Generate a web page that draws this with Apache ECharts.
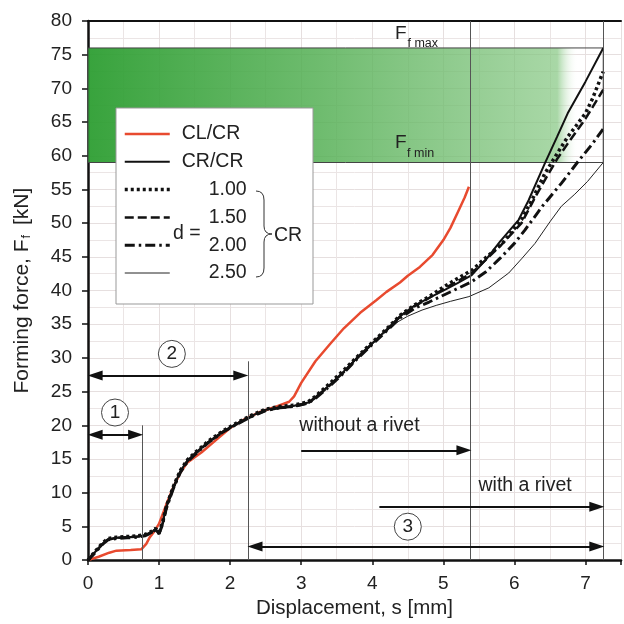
<!DOCTYPE html>
<html><head><meta charset="utf-8">
<script src="https://cdn.jsdelivr.net/npm/echarts@6/dist/echarts.min.js"></script>
<style>html,body{margin:0;padding:0;background:#fff}#c{width:624px;height:624px}</style>
</head><body><div id="c"></div>
<script>
const FONT = "'Liberation Sans Narrow','Arial Narrow','Liberation Sans',Arial,sans-serif";

// ---- data ----
const xTicks = [0, 1, 2, 3, 4, 5, 6, 7];
const yTicks = [0, 5, 10, 15, 20, 25, 30, 35, 40, 45, 50, 55, 60, 65, 70, 75, 80];
const seriesNames = ['CL/CR', 'CR/CR', '1.00', '1.50', '2.00', '2.50'];

const clcr = [[0,0],[0.15,0.5],[0.3,1.1],[0.4,1.4],[0.6,1.5],[0.75,1.6],[0.82,2.4],[0.87,3.4],[0.93,4.2],[1.0,5.4],[1.1,8.2],[1.2,10.8],[1.3,13.0],[1.4,14.5],[1.6,16.0],[1.8,17.8],[2.0,19.6],[2.2,20.9],[2.4,21.9],[2.6,22.6],[2.83,23.5],[2.9,24.3],[3.0,26.3],[3.2,29.5],[3.4,32.0],[3.6,34.4],[3.83,36.7],[4.06,38.6],[4.2,39.8],[4.39,41.2],[4.5,42.2],[4.67,43.5],[4.85,45.3],[5.0,47.5],[5.1,49.3],[5.22,52.0],[5.3,53.8],[5.36,55.4]];

const crcr = [[0,0],[0.1,1.2],[0.2,2.4],[0.28,3.1],[0.4,3.3],[0.55,3.4],[0.7,3.5],[0.8,3.7],[0.9,4.2],[0.95,4.6],[1.0,4.0],[1.05,5.5],[1.1,7.8],[1.2,10.8],[1.3,13.2],[1.4,14.8],[1.5,15.8],[1.7,17.6],[1.9,19.1],[2.1,20.3],[2.3,21.4],[2.5,22.3],[2.7,22.7],[2.9,22.9],[3.1,23.4],[3.2,24.2],[3.4,26.0],[3.6,28.0],[3.8,30.2],[4.0,32.2],[4.2,34.2],[4.4,36.3],[4.6,37.8],[4.8,38.9],[5.0,40.0],[5.2,41.1],[5.4,42.3],[5.6,44.6],[5.8,47.3],[6.06,50.5],[6.2,53.4],[6.43,58.9],[6.6,62.8],[6.75,66.3],[7.0,71.0],[7.25,76.0]];

const d100 = [[0,0],[0.1,1.3],[0.2,2.5],[0.28,3.2],[0.4,3.4],[0.55,3.5],[0.7,3.6],[0.8,3.8],[0.9,4.3],[0.95,4.7],[1.0,4.1],[1.05,5.6],[1.1,7.9],[1.2,10.9],[1.3,13.3],[1.4,14.9],[1.5,15.9],[1.7,17.7],[1.9,19.2],[2.1,20.4],[2.3,21.5],[2.5,22.4],[2.7,22.8],[2.9,23.0],[3.1,23.5],[3.2,24.3],[3.4,26.2],[3.6,28.2],[3.8,30.3],[4.0,32.3],[4.2,34.3],[4.4,36.4],[4.6,37.9],[4.8,39.1],[5.0,40.5],[5.2,41.8],[5.4,43.0],[5.6,44.9],[5.83,47.0],[6.1,50.5],[6.25,53.5],[6.43,57.4],[6.6,60.3],[6.75,62.8],[7.0,66.3],[7.1,68.5],[7.25,72.5]];

const d150 = [[0,0],[0.1,1.2],[0.2,2.3],[0.28,3.0],[0.4,3.3],[0.55,3.4],[0.7,3.5],[0.8,3.7],[0.9,4.1],[0.95,4.5],[1.0,3.9],[1.05,5.4],[1.1,7.7],[1.2,10.7],[1.3,13.1],[1.4,14.7],[1.5,15.7],[1.7,17.5],[1.9,19.0],[2.1,20.2],[2.3,21.3],[2.5,22.2],[2.7,22.6],[2.9,22.8],[3.1,23.3],[3.2,24.1],[3.4,25.9],[3.6,27.9],[3.8,30.1],[4.0,32.1],[4.2,34.1],[4.4,36.2],[4.6,37.7],[4.8,38.9],[5.0,40.2],[5.2,41.4],[5.4,42.6],[5.6,44.6],[5.8,46.6],[6.1,50.0],[6.3,54.0],[6.45,56.8],[6.6,59.5],[6.75,61.8],[7.0,65.5],[7.25,69.8]];

const d200 = [[0,0],[0.1,1.1],[0.2,2.3],[0.28,3.0],[0.4,3.2],[0.55,3.3],[0.7,3.4],[0.8,3.6],[0.9,4.1],[0.95,4.5],[1.0,3.9],[1.05,5.3],[1.1,7.6],[1.2,10.6],[1.3,13.0],[1.4,14.6],[1.5,15.6],[1.7,17.5],[1.9,19.0],[2.1,20.2],[2.3,21.3],[2.5,22.2],[2.7,22.6],[2.9,22.8],[3.1,23.3],[3.2,24.0],[3.4,25.8],[3.6,27.8],[3.8,30.0],[4.0,32.0],[4.2,34.0],[4.4,36.0],[4.6,37.4],[4.8,38.3],[5.0,39.3],[5.2,40.3],[5.4,41.3],[5.6,42.8],[5.8,44.8],[6.0,47.0],[6.15,49.0],[6.4,52.6],[6.66,55.9],[6.9,59.2],[7.1,61.8],[7.25,64.0]];

const d250 = [[0,0],[0.1,1.2],[0.2,2.4],[0.28,3.1],[0.4,3.3],[0.55,3.4],[0.7,3.5],[0.8,3.7],[0.9,4.2],[0.95,4.5],[1.0,4.0],[1.05,5.4],[1.1,7.7],[1.2,10.7],[1.3,13.1],[1.4,14.7],[1.5,15.7],[1.7,17.6],[1.9,19.1],[2.1,20.3],[2.3,21.4],[2.5,22.3],[2.7,22.7],[2.9,22.9],[3.1,23.4],[3.2,24.1],[3.4,25.9],[3.6,27.9],[3.8,30.0],[4.0,32.0],[4.15,33.5],[4.3,35.0],[4.5,36.2],[4.7,37.1],[4.9,37.8],[5.1,38.4],[5.36,39.1],[5.64,40.4],[5.92,42.6],[6.1,44.7],[6.29,47.0],[6.5,50.2],[6.66,52.5],[6.85,54.3],[7.03,56.2],[7.25,59.0]];

// force window and reference positions
const ffMin = 59, ffMax = 76;
const sStart = 0, sRivetless = 5.38, sRivet = 7.25, sStage1 = 0.77, sStage2 = 2.25;

const chart = echarts.init(document.getElementById('c'), null, {renderer: 'canvas'});

const lineGray = '#555';
const arrowSym = 'triangle';
const braceStyle = {fill: 'none', stroke: '#333', lineWidth: 1};
const hidden = {color: 'rgba(0,0,0,0)'};
const txt = (coord, text, size) => ({coord: coord, symbol: 'rect', symbolSize: 1, itemStyle: hidden,
  label: {show: true, position: 'inside', formatter: text, fontFamily: FONT, fontSize: size, color: '#222'}});
const circ = (coord, text) => ({coord: coord, symbol: 'circle', symbolSize: 27,
  itemStyle: {color: '#fff', borderColor: '#444', borderWidth: 1},
  label: {show: true, position: 'inside', formatter: text, fontFamily: FONT, fontSize: 19, color: '#222'}});

const option = {
  backgroundColor: '#fff',
  animation: false,
  textStyle: {fontFamily: FONT},
  grid: {left: 88, top: 21, width: 538, height: 540, show: false},
  xAxis: [{
    type: 'value', min: 0, max: 7.5, interval: 1,
    name: 'Displacement, s [mm]', nameLocation: 'middle', nameGap: 35,
    nameTextStyle: {fontFamily: FONT, fontSize: 20.5, color: '#222'},
    axisLine: {show: true, onZero: false, lineStyle: {color: '#111', width: 2.5}},
    axisTick: {show: true, length: 5, lineStyle: {color: '#111', width: 1.5}},
    axisLabel: {margin: 14, fontFamily: FONT, fontSize: 19, color: '#222',
      formatter: v => (Math.abs(v - Math.round(v)) < 1e-6 && v <= 7) ? String(Math.round(v)) : ''},
    splitLine: {show: true, lineStyle: {color: '#e6dfdf', width: 1}},
    minorSplitLine: {show: true, lineStyle: {color: '#ebe5e5', width: 1}},
    minorTick: {show: false, splitNumber: 2}
  }, {
    type: 'value', min: 0, max: 7.5, interval: 1, position: 'top',
    axisLine: {show: true, onZero: false, lineStyle: {color: '#111', width: 2}},
    axisTick: {show: false}, axisLabel: {show: false}, splitLine: {show: false}
  }],
  yAxis: {
    type: 'value', min: 0, max: 80, interval: 5,
    name: 'Forming force, F{s|f} [kN]', nameLocation: 'middle', nameGap: 55,
    nameTextStyle: {fontFamily: FONT, fontSize: 21, color: '#222',
      rich: {s: {fontFamily: FONT, fontSize: 13, lineHeight: 13, verticalAlign: 'bottom', color: '#222', padding: [0, 4, 0, 1]}}},
    axisLine: {show: true, onZero: false, lineStyle: {color: '#111', width: 2.5}},
    axisTick: {show: true, length: 6, lineStyle: {color: '#111', width: 1.5}},
    axisLabel: {margin: 16, fontFamily: FONT, fontSize: 19, color: '#222'},
    splitLine: {show: true, lineStyle: {color: '#e6dfdf', width: 1}},
    minorSplitLine: {show: true, lineStyle: {color: '#ebe5e5', width: 1}},
    minorTick: {show: false, splitNumber: 2}
  },
  legend: {
    orient: 'vertical', left: 123, top: 124, itemWidth: 45, itemHeight: 12, itemGap: 7.8,
    padding: 0, z: 10, selectedMode: false,
    data: seriesNames,
    itemStyle: {color: 'rgba(0,0,0,0)', borderWidth: 0, opacity: 0},
    lineStyle: {width: 'inherit', type: 'inherit', color: 'inherit'},
    formatter: n => n.indexOf('/') >= 0 ? '{a|' + n + '}' : '{b|' + n + '}',
    textStyle: {fontFamily: FONT, fontSize: 19.5, color: '#222',
      rich: {a: {fontFamily: FONT, fontSize: 19.5, color: '#222', padding: [0, 0, 0, 7], lineHeight: 22},
             b: {fontFamily: FONT, fontSize: 19.5, color: '#222', padding: [0, 0, 0, 34], lineHeight: 22}}}
  },
  graphic: [
    {type: 'rect', z: 3, shape: {x: 116, y: 108, width: 197, height: 196}, style: {fill: '#fff', stroke: '#999', lineWidth: 1}},
    {type: 'text', z: 11, x: 173, y: 224, style: {text: 'd =', font: "19.5px " + FONT, fill: '#222'}},
    {type: 'text', z: 11, x: 274, y: 226, style: {text: 'CR', font: "19.5px " + FONT, fill: '#222'}},
    {type: 'bezierCurve', z: 11, shape: {x1: 256, y1: 191, x2: 264, y2: 200, cpx1: 264, cpy1: 191}, style: braceStyle},
    {type: 'line', z: 11, shape: {x1: 264, y1: 200, x2: 264, y2: 226}, style: braceStyle},
    {type: 'bezierCurve', z: 11, shape: {x1: 264, y1: 226, x2: 272, y2: 234, cpx1: 264, cpy1: 234}, style: braceStyle},
    {type: 'bezierCurve', z: 11, shape: {x1: 272, y1: 234, x2: 264, y2: 242, cpx1: 264, cpy1: 234}, style: braceStyle},
    {type: 'line', z: 11, shape: {x1: 264, y1: 242, x2: 264, y2: 268}, style: braceStyle},
    {type: 'bezierCurve', z: 11, shape: {x1: 264, y1: 268, x2: 256, y2: 277, cpx1: 264, cpy1: 277}, style: braceStyle}
  ],
  series: [
    {
      name: 'annot', type: 'line', data: [], z: 1, symbol: 'none', silent: true,
      markArea: {
        silent: true,
        itemStyle: {
          color: {type: 'linear', x: 0, y: 0, x2: 1, y2: 0, colorStops: [
            {offset: 0, color: 'rgba(45,158,50,0.95)'},
            {offset: 0.45, color: 'rgba(85,176,85,0.85)'},
            {offset: 0.75, color: 'rgba(120,192,118,0.78)'},
            {offset: 0.91, color: 'rgba(135,200,132,0.72)'},
            {offset: 0.95, color: 'rgba(255,255,255,0)'},
            {offset: 1, color: 'rgba(255,255,255,0)'}]},
          borderColor: '#444', borderWidth: 1
        },
        data: [[{coord: [sStart, ffMin]}, {coord: [sRivet, ffMax]}]]
      },
      markLine: {
        silent: true, symbol: 'none', symbolSize: [10, 15],
        label: {show: false},
        lineStyle: {color: lineGray, width: 1, type: 'solid'},
        data: [
          [{coord: [sStage1, 0]}, {coord: [sStage1, 20]}],
          [{coord: [sStage2, 0]}, {coord: [sStage2, 29.5]}],
          [{coord: [sRivetless, 0]}, {coord: [sRivetless, 80]}],
          [{coord: [sRivet, 0]}, {coord: [sRivet, 80]}],
          [{coord: [0.1, 18.6], symbol: arrowSym, lineStyle: {color: '#111', width: 2}}, {coord: [0.67, 18.6], symbol: arrowSym}],
          [{coord: [0.1, 27.4], symbol: arrowSym, lineStyle: {color: '#111', width: 2}}, {coord: [2.15, 27.4], symbol: arrowSym}],
          [{coord: [3.0, 16.3], symbol: 'none', lineStyle: {color: '#111', width: 2}}, {coord: [5.29, 16.3], symbol: arrowSym}],
          [{coord: [4.1, 7.9], symbol: 'none', lineStyle: {color: '#111', width: 2}}, {coord: [7.16, 7.9], symbol: arrowSym}],
          [{coord: [2.35, 2.0], symbol: arrowSym, lineStyle: {color: '#111', width: 2}}, {coord: [7.16, 2.0], symbol: arrowSym}]
        ]
      },
      markPoint: {
        silent: true,
        data: [
          circ([0.38, 21.9], '1'),
          circ([1.18, 30.6], '2'),
          circ([4.5, 4.96], '3'),
          txt([3.82, 19.9], 'without a rivet', 19.5),
          txt([6.15, 11.0], 'with a rivet', 19.5),
          txt([4.40, 78.1], 'F', 19),
          txt([4.71, 76.6], 'f max', 12.5),
          txt([4.40, 61.9], 'F', 19),
          txt([4.68, 60.4], 'f min', 12.5)
        ]
      }
    },
    {name: 'CL/CR', type: 'line', data: clcr, symbol: 'none', z: 2, lineStyle: {color: '#e84a2f', width: 2.5}, itemStyle: {color: '#e84a2f'}},
    {name: '2.50', type: 'line', data: d250, symbol: 'none', z: 2, lineStyle: {color: '#222', width: 1}, itemStyle: {color: '#222'}},
    {name: '2.00', type: 'line', data: d200, symbol: 'none', z: 2, lineStyle: {color: '#111', width: 3, type: [10, 4, 2.5, 4]}, itemStyle: {color: '#111'}},
    {name: '1.50', type: 'line', data: d150, symbol: 'none', z: 2, lineStyle: {color: '#111', width: 2.5, type: [9, 4]}, itemStyle: {color: '#111'}},
    {name: '1.00', type: 'line', data: d100, symbol: 'none', z: 2, lineStyle: {color: '#111', width: 3.5, type: [3, 3]}, itemStyle: {color: '#111'}},
    {name: 'CR/CR', type: 'line', data: crcr, symbol: 'none', z: 2, lineStyle: {color: '#111', width: 2}, itemStyle: {color: '#111'}}
  ]
};
chart.setOption(option);
</script></body></html>
